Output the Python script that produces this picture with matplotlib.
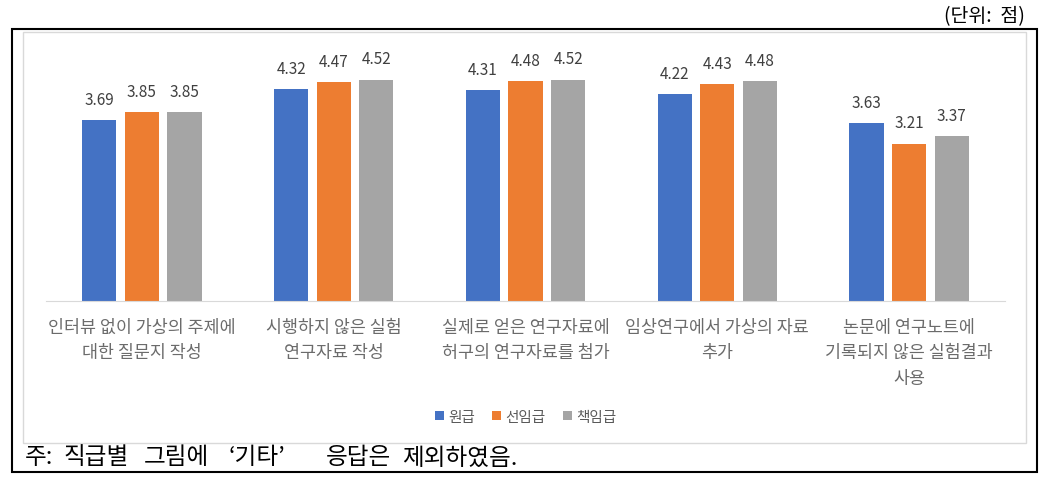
import numpy as np
import matplotlib.pyplot as plt
from matplotlib.patches import Rectangle

plt.rcParams['font.family'] = ['Noto Sans CJK KR', 'DejaVu Sans']

# data
categories = ["인터뷰 없이 가상의 주제에\n대한 질문지 작성",
              "시행하지 않은 실험\n연구자료 작성",
              "실제로 얻은 연구자료에\n허구의 연구자료를 첨가",
              "임상연구에서 가상의 자료\n추가",
              "논문에 연구노트에\n기록되지 않은 실험결과\n사용"]
series_names = ["원급", "선임급", "책임급"]
junior = [3.69, 4.32, 4.31, 4.22, 3.63]
senior = [3.85, 4.47, 4.48, 4.43, 3.21]
chief = [3.85, 4.52, 4.52, 4.48, 3.37]
colors = ["#4472C4", "#ED7D31", "#A5A5A5"]

note_words = ["주:", "직급별", "그림에", "‘기타’", "응답은", "제외하였음."]
note_x = [25, 64, 144, 229, 326, 402]   # pixel x of each word

W, H = 1044, 481
fig = plt.figure(figsize=(W / 100, H / 100), dpi=100)

# outer black box and inner chart-area border (pixel coords -> fig fraction)
def px_rect(x0, y0, x1, y1, **kw):
    return Rectangle((x0 / W, 1 - y1 / H), (x1 - x0) / W, (y1 - y0) / H,
                     transform=fig.transFigure, fill=False, **kw)

fig.patches.append(px_rect(12, 30, 1037, 473, edgecolor='black', linewidth=1.5))
fig.patches.append(px_rect(23, 33, 1026, 444, edgecolor='#D9D9D9', linewidth=1.0))

ax = fig.add_axes([46 / W, (H - 302) / H, (1005 - 46) / W, (302 - 57) / H])

x = np.arange(len(categories))
bw = 0.178
pitch = 0.222
for i, (vals, name) in enumerate(zip([junior, senior, chief], series_names)):
    bars = ax.bar(x + (i - 1) * pitch, vals, width=bw, color=colors[i], label=name)
    for b, v in zip(bars, vals):
        ax.text(b.get_x() + b.get_width() / 2, v + 0.25, f"{v:.2f}",
                ha='center', va='bottom', fontsize=11, color='#404040')

ax.set_xlim(-0.5, 4.5)
ax.set_ylim(0, 5)
ax.set_yticks([])
ax.set_xticks(x)
ax.set_xticklabels(categories, fontsize=12.5, color='#6b6b6b', linespacing=1.55)
ax.tick_params(axis='x', length=0, pad=12)
for s in ['top', 'right', 'left']:
    ax.spines[s].set_visible(False)
ax.spines['bottom'].set_color('#D9D9D9')

fig.legend(loc='center', bbox_to_anchor=(525.5 / W, 1 - 418 / H), ncol=3,
           frameon=False, fontsize=10.5, handlelength=0.6, handleheight=0.6,
           handletextpad=0.3, columnspacing=1.2, labelcolor='#595959')

fig.text(1025 / W, 1 - 17 / H, "(단위:  점)", ha='right', va='center', fontsize=14)
for w, px in zip(note_words, note_x):
    fig.text(px / W, 1 - 458 / H, w, ha='left', va='center', fontsize=17)

fig.savefig("out.png", dpi=100)
